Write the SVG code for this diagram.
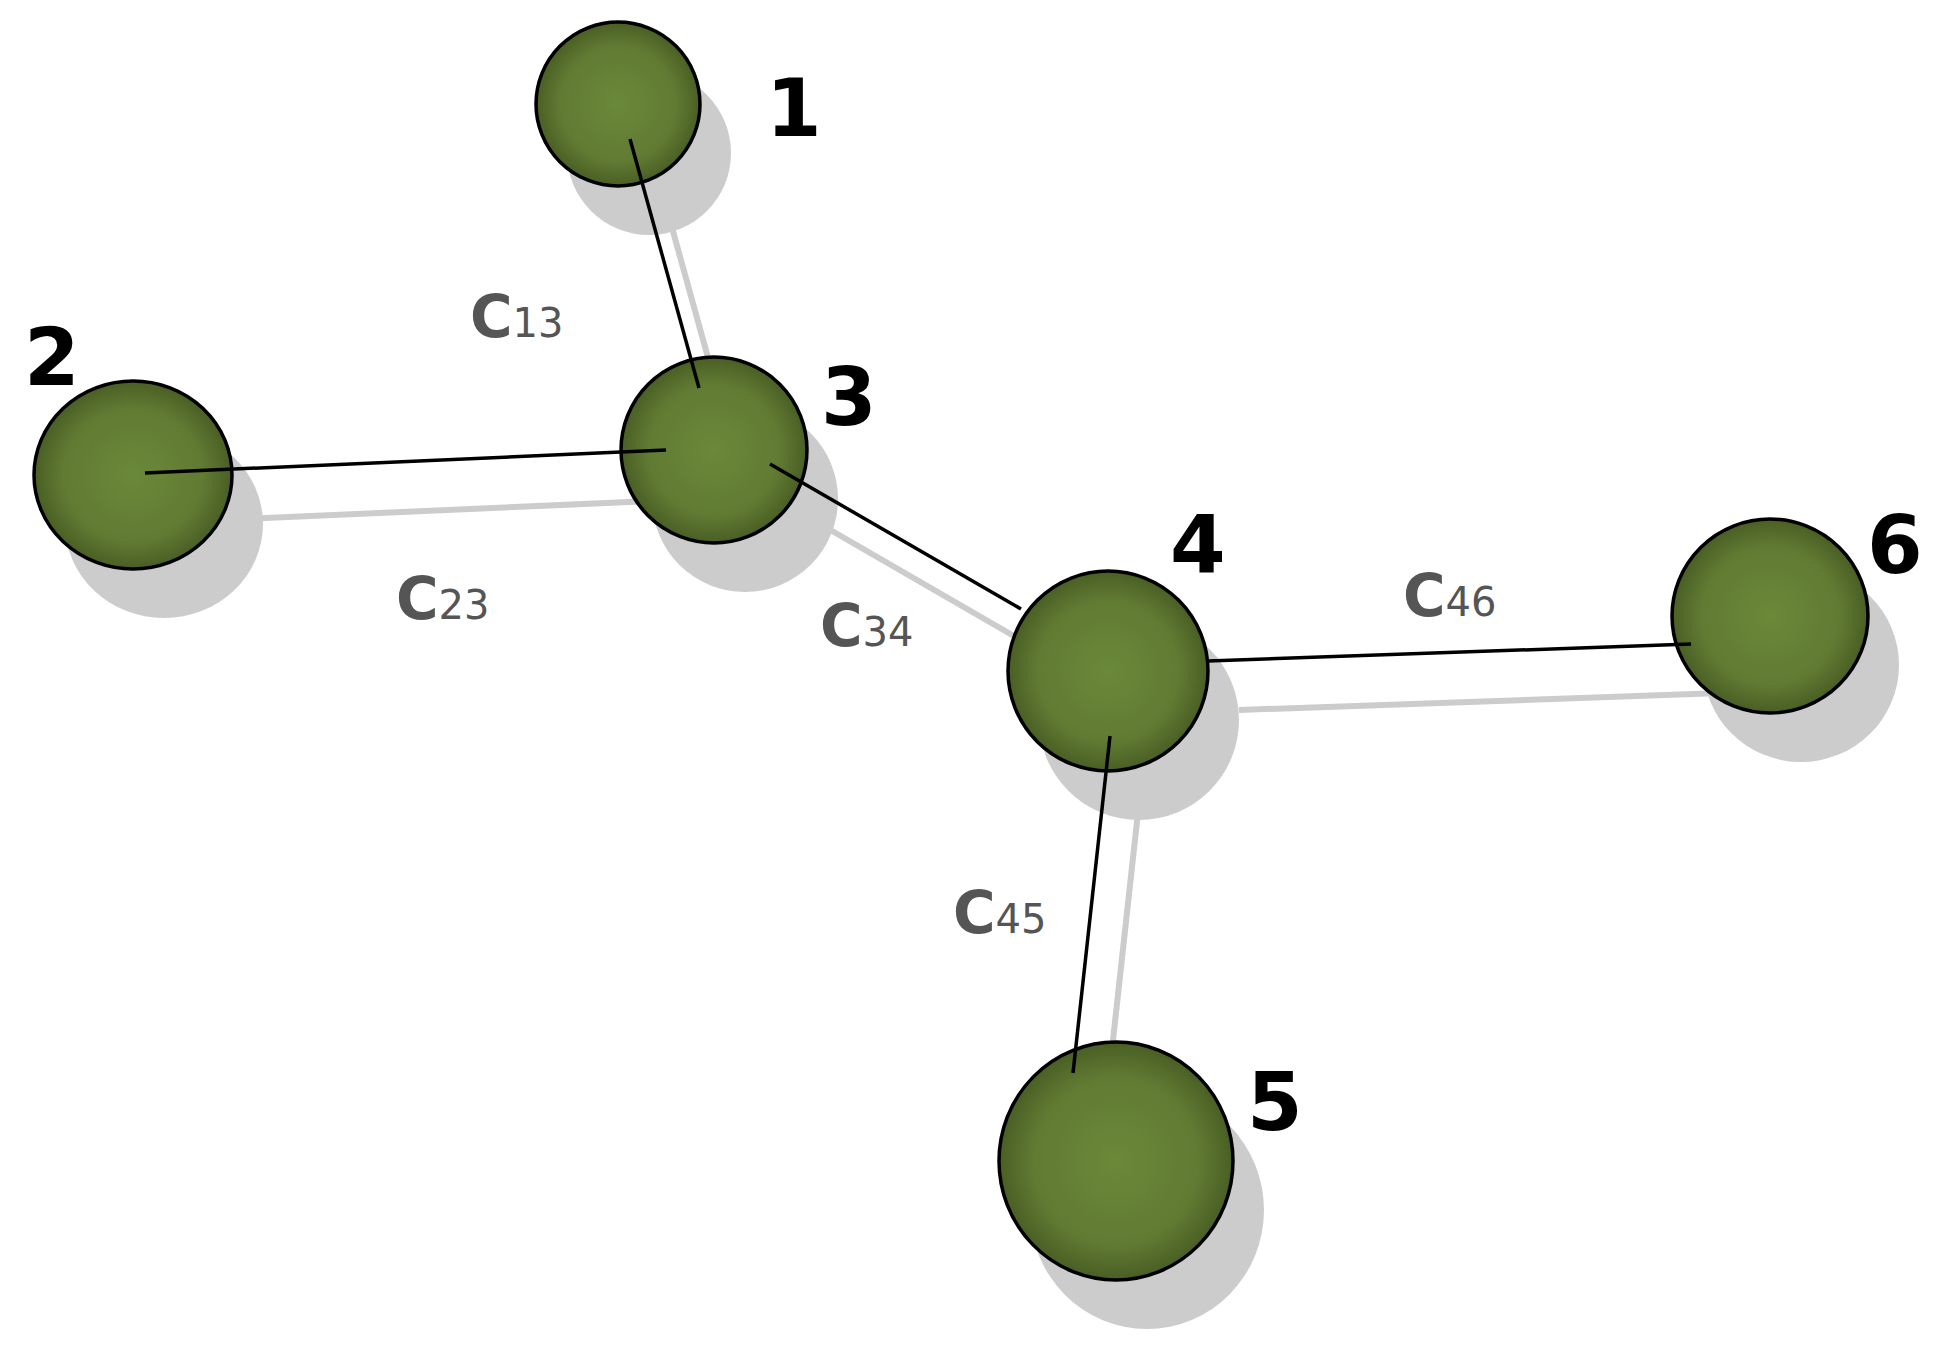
<svg xmlns="http://www.w3.org/2000/svg" width="1933" height="1352" viewBox="0 0 1933 1352">
<defs>
<radialGradient id="g" cx="0.5" cy="0.5" r="0.5">
<stop offset="0" stop-color="#6b8939"/>
<stop offset="0.7" stop-color="#617b33"/>
<stop offset="1" stop-color="#4a5e24"/>
</radialGradient>
</defs>
<style>
.sh{fill:#cccccc}
.n{fill:url(#g);stroke:#000;stroke-width:3.5}
.gl{stroke:#cccccc;stroke-width:6;fill:none}
.bl{stroke:#000;stroke-width:3.5;fill:none}
.num{font-family:"DejaVu Sans",sans-serif;font-weight:bold;font-size:80px;fill:#000}
.c{font-family:"DejaVu Sans",sans-serif;font-weight:bold;font-size:58px;fill:#555}
.s{font-family:"DejaVu Sans",sans-serif;font-size:40px;fill:#555;font-weight:normal}
</style>
<rect width="1933" height="1352" fill="#fff"/>
<g id="shadows">
<ellipse class="sh" cx="649" cy="153" rx="82" ry="82"/>
<ellipse class="sh" cx="164" cy="524" rx="99" ry="94"/>
<ellipse class="sh" cx="745" cy="499" rx="93" ry="93"/>
<ellipse class="sh" cx="1139" cy="720" rx="100" ry="100"/>
<ellipse class="sh" cx="1147" cy="1210" rx="117" ry="119"/>
<ellipse class="sh" cx="1801" cy="665" rx="98" ry="97"/>
</g>
<g id="connectors">
<line class="gl" x1="661" y1="188" x2="730" y2="437"/>
<line class="gl" x1="176" y1="522" x2="697" y2="499"/>
<line class="gl" x1="801" y1="513" x2="1052" y2="658"/>
<line class="gl" x1="1239" y1="710" x2="1722" y2="693"/>
<line class="gl" x1="1141" y1="785" x2="1104" y2="1122"/>
</g>
<g id="node1"><ellipse class="n" cx="618" cy="104" rx="82" ry="82"/><text class="num" x="766" y="136">1</text></g>
<g id="node2"><ellipse class="n" cx="133" cy="475" rx="99" ry="94"/><text class="num" x="24" y="385">2</text></g>
<g id="node3"><ellipse class="n" cx="714" cy="450" rx="93" ry="93"/><text class="num" x="821" y="425">3</text></g>
<g id="node4"><ellipse class="n" cx="1108" cy="671" rx="100" ry="100"/><text class="num" x="1170" y="573">4</text></g>
<g id="node5"><ellipse class="n" cx="1116" cy="1161" rx="117" ry="119"/><text class="num" x="1247" y="1130">5</text></g>
<g id="node6"><ellipse class="n" cx="1770" cy="616" rx="98" ry="97"/><text class="num" x="1867" y="573">6</text></g>
<g id="edges">
<line class="bl" x1="630" y1="139" x2="699" y2="388"/>
<line class="bl" x1="145" y1="473" x2="666" y2="450"/>
<line class="bl" x1="770" y1="464" x2="1021" y2="609"/>
<line class="bl" x1="1208" y1="661" x2="1691" y2="644"/>
<line class="bl" x1="1110" y1="736" x2="1073" y2="1073"/>
</g>
<g id="labels">
<text x="470" y="337"><tspan class="c">C</tspan><tspan class="s">13</tspan></text>
<text x="396" y="619"><tspan class="c">C</tspan><tspan class="s">23</tspan></text>
<text x="820" y="646"><tspan class="c">C</tspan><tspan class="s">34</tspan></text>
<text x="953" y="933"><tspan class="c">C</tspan><tspan class="s">45</tspan></text>
<text x="1403" y="616"><tspan class="c">C</tspan><tspan class="s">46</tspan></text>
</g>
</svg>
